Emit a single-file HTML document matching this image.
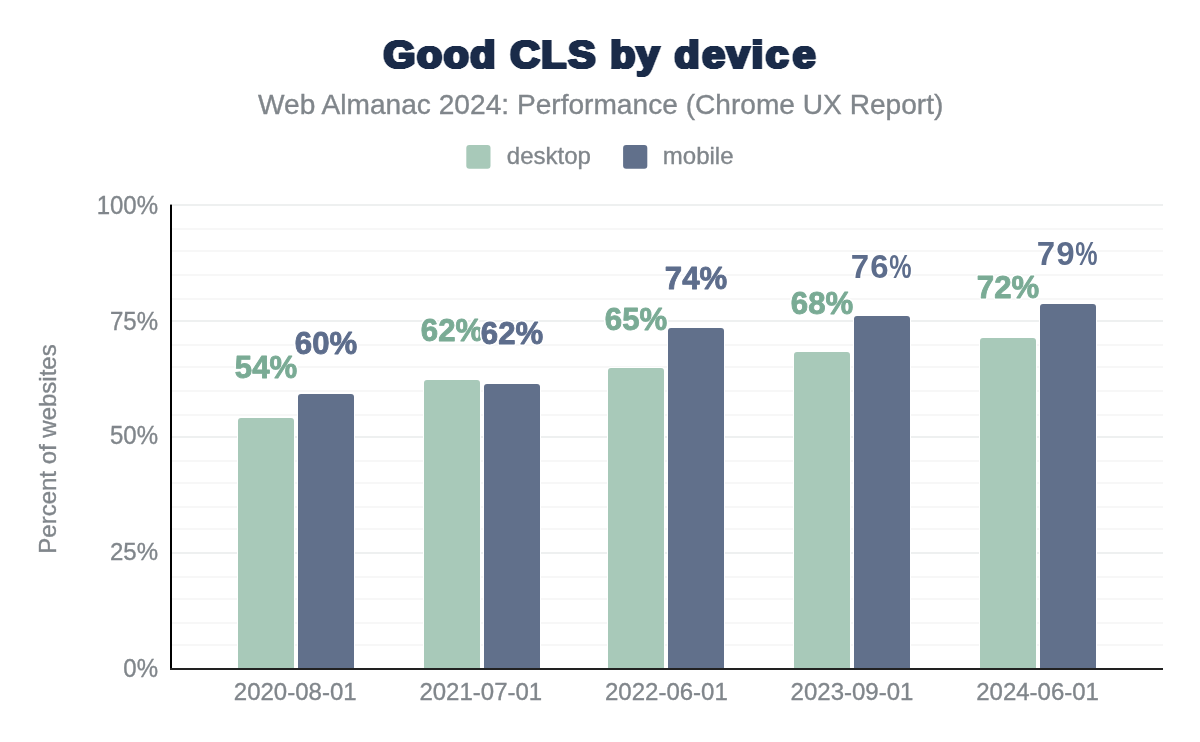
<!DOCTYPE html>
<html lang="en"><head><meta charset="utf-8"><title>Good CLS by device</title>
<style>
html,body{margin:0;padding:0;background:#fff;}
body{width:1200px;height:742px;overflow:hidden;font-family:"Liberation Sans",sans-serif;}
svg{display:block}
text{font-family:"Liberation Sans",sans-serif;}
.title{font-weight:700;font-size:39px;fill:#1a2b49;stroke:#1a2b49;stroke-width:2.0px;stroke-linejoin:miter;filter:url(#fat);}
.sub{font-size:28px;fill:#80868b;stroke:#80868b;stroke-width:.35px;}
.ax{font-size:24px;fill:#80868b;stroke:#80868b;stroke-width:.35px;}
.l2{stroke:none!important;font-size:33px!important}
.lbl{font-size:32px;font-weight:700;stroke-width:.9px;stroke-linejoin:round;filter:url(#halo);}
</style></head><body>
<svg width="1200" height="742" viewBox="0 0 1200 742">
<defs><filter id="fat" x="-5%" y="-20%" width="110%" height="140%" color-interpolation-filters="sRGB"><feConvolveMatrix in="SourceAlpha" order="3 1" kernelMatrix="0.6 1 0.6" divisor="1" edgeMode="none" preserveAlpha="false" result="a"/><feFlood flood-color="#1a2b49"/><feComposite in2="a" operator="in"/></filter><filter id="halo" x="-10%" y="-20%" width="120%" height="140%" color-interpolation-filters="sRGB"><feGaussianBlur in="SourceAlpha" stdDeviation="1.3"/><feComponentTransfer><feFuncA type="linear" slope="10" intercept="-0.3"/></feComponentTransfer><feColorMatrix type="matrix" values="0 0 0 0 1  0 0 0 0 1  0 0 0 0 1  0 0 0 1 0" result="h"/><feMerge><feMergeNode in="h"/><feMergeNode in="SourceGraphic"/></feMerge></filter></defs>
<rect width="1200" height="742" fill="#fff"/>
<rect x="172" y="228" width="991" height="2" fill="#f7f7f7"/>
<rect x="172" y="250" width="991" height="2" fill="#f7f7f7"/>
<rect x="172" y="274" width="991" height="2" fill="#f7f7f7"/>
<rect x="172" y="298" width="991" height="2" fill="#f7f7f7"/>
<rect x="172" y="344" width="991" height="2" fill="#f7f7f7"/>
<rect x="172" y="366" width="991" height="2" fill="#f7f7f7"/>
<rect x="172" y="390" width="991" height="2" fill="#f7f7f7"/>
<rect x="172" y="414" width="991" height="2" fill="#f7f7f7"/>
<rect x="172" y="460" width="991" height="2" fill="#f7f7f7"/>
<rect x="172" y="482" width="991" height="2" fill="#f7f7f7"/>
<rect x="172" y="506" width="991" height="2" fill="#f7f7f7"/>
<rect x="172" y="528" width="991" height="2" fill="#f7f7f7"/>
<rect x="172" y="576" width="991" height="2" fill="#f7f7f7"/>
<rect x="172" y="598" width="991" height="2" fill="#f7f7f7"/>
<rect x="172" y="622" width="991" height="2" fill="#f7f7f7"/>
<rect x="172" y="644" width="991" height="2" fill="#f7f7f7"/>
<rect x="172" y="204" width="991" height="2" fill="#eef0f0"/>
<rect x="172" y="320" width="991" height="2" fill="#eef0f0"/>
<rect x="172" y="436" width="991" height="2" fill="#eef0f0"/>
<rect x="172" y="552" width="991" height="2" fill="#eef0f0"/>
<path d="M237 668V421q0-4 4-4h50q4 0 4 4V668z" fill="#fff"/>
<path d="M238 668V421q0-3 3-3h50q3 0 3 3V668z" fill="#a8c9b9"/>
<path d="M297 668V397q0-4 4-4h50q4 0 4 4V668z" fill="#fff"/>
<path d="M298 668V397q0-3 3-3h50q3 0 3 3V668z" fill="#61708b"/>
<path d="M423 668V383q0-4 4-4h50q4 0 4 4V668z" fill="#fff"/>
<path d="M424 668V383q0-3 3-3h50q3 0 3 3V668z" fill="#a8c9b9"/>
<path d="M483 668V387q0-4 4-4h50q4 0 4 4V668z" fill="#fff"/>
<path d="M484 668V387q0-3 3-3h50q3 0 3 3V668z" fill="#61708b"/>
<path d="M607 668V371q0-4 4-4h50q4 0 4 4V668z" fill="#fff"/>
<path d="M608 668V371q0-3 3-3h50q3 0 3 3V668z" fill="#a8c9b9"/>
<path d="M667 668V331q0-4 4-4h50q4 0 4 4V668z" fill="#fff"/>
<path d="M668 668V331q0-3 3-3h50q3 0 3 3V668z" fill="#61708b"/>
<path d="M793 668V355q0-4 4-4h50q4 0 4 4V668z" fill="#fff"/>
<path d="M794 668V355q0-3 3-3h50q3 0 3 3V668z" fill="#a8c9b9"/>
<path d="M853 668V319q0-4 4-4h50q4 0 4 4V668z" fill="#fff"/>
<path d="M854 668V319q0-3 3-3h50q3 0 3 3V668z" fill="#61708b"/>
<path d="M979 668V341q0-4 4-4h50q4 0 4 4V668z" fill="#fff"/>
<path d="M980 668V341q0-3 3-3h50q3 0 3 3V668z" fill="#a8c9b9"/>
<path d="M1039 668V307q0-4 4-4h50q4 0 4 4V668z" fill="#fff"/>
<path d="M1040 668V307q0-3 3-3h50q3 0 3 3V668z" fill="#61708b"/>
<rect x="170" y="204.6" width="2" height="465.4" fill="#000"/>
<rect x="170" y="668" width="993" height="2" fill="#222"/>
<text class="ax" transform="translate(158 676.5) scale(1 1.045)" text-anchor="end">0%</text>
<text class="ax" transform="translate(158 560.3) scale(1 1.020)" text-anchor="end">25%</text>
<text class="ax" transform="translate(158 444.2) scale(1 1.045)" text-anchor="end">50%</text>
<text class="ax" transform="translate(158 329.6) scale(1 1.040)" text-anchor="end">75%</text>
<text class="ax" transform="translate(158 214.0) scale(1 1.045)" text-anchor="end">100%</text>
<text class="ax" x="295.2" y="700" text-anchor="middle">2020-08-01</text>
<text class="ax" x="480.8" y="700" text-anchor="middle">2021-07-01</text>
<text class="ax" x="666.4" y="700" text-anchor="middle">2022-06-01</text>
<text class="ax" x="852.0" y="700" text-anchor="middle">2023-09-01</text>
<text class="ax" x="1037.6" y="700" text-anchor="middle">2024-06-01</text>
<text class="ax" transform="translate(56 449) rotate(-90)" text-anchor="middle">Percent of websites</text>
<text class="title" transform="translate(0 68.00) scale(1.0500 1)" x="365.33 397.04 422.61 447.86 482.41 485.89 515.48 541.24 578.56 581.17 606.24 639.74 642.48 668.92 692.25 715.88 729.20 755.01" y="0">Good CLS by device</text>
<text class="sub" x="600.7" y="114.4" text-anchor="middle" textLength="685.4" lengthAdjust="spacingAndGlyphs">Web Almanac 2024: Performance (Chrome UX Report)</text>
<rect x="466.3" y="145" width="24.2" height="23.7" rx="3" fill="#a8c9b9"/>
<text class="ax" x="506.8" y="163.8">desktop</text>
<rect x="623.1" y="145" width="24.2" height="23.7" rx="3" fill="#61708b"/>
<text class="ax" x="662.8" y="163.8">mobile</text>
<text class="lbl" x="266" y="378.0" text-anchor="middle" textLength="62.3" lengthAdjust="spacingAndGlyphs" fill="#7aab95" stroke="#7aab95">54%</text>
<text class="lbl" x="326" y="354.1" text-anchor="middle" textLength="62.3" lengthAdjust="spacingAndGlyphs" fill="#5d6d8c" stroke="#5d6d8c">60%</text>
<text class="lbl" x="452" y="341.4" text-anchor="middle" textLength="62.3" lengthAdjust="spacingAndGlyphs" fill="#7aab95" stroke="#7aab95">62%</text>
<text class="lbl" x="512" y="344.3" text-anchor="middle" textLength="62.3" lengthAdjust="spacingAndGlyphs" fill="#5d6d8c" stroke="#5d6d8c">62%</text>
<text class="lbl" x="636" y="329.9" text-anchor="middle" textLength="62.3" lengthAdjust="spacingAndGlyphs" fill="#7aab95" stroke="#7aab95">65%</text>
<text class="lbl" x="696" y="289.0" text-anchor="middle" textLength="62.3" lengthAdjust="spacingAndGlyphs" fill="#5d6d8c" stroke="#5d6d8c">74%</text>
<text class="lbl" x="822" y="314.0" text-anchor="middle" textLength="62.3" lengthAdjust="spacingAndGlyphs" fill="#7aab95" stroke="#7aab95">68%</text>
<text class="lbl l2" x="850.8 870.2" y="277.9" fill="#5d6d8c">76<tspan x="889.3" textLength="22.3" lengthAdjust="spacingAndGlyphs">%</tspan></text>
<text class="lbl" x="1008" y="298.3" text-anchor="middle" textLength="62.3" lengthAdjust="spacingAndGlyphs" fill="#7aab95" stroke="#7aab95">72%</text>
<text class="lbl l2" x="1036.8 1056.2" y="264.7" fill="#5d6d8c">79<tspan x="1075.3" textLength="22.3" lengthAdjust="spacingAndGlyphs">%</tspan></text>
</svg></body></html>
